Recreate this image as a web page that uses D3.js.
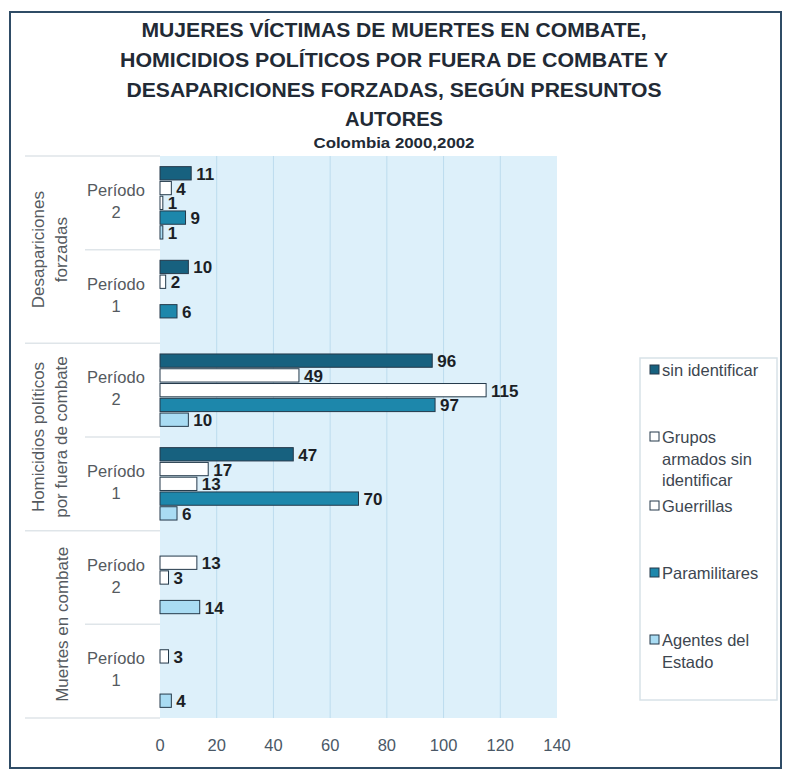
<!DOCTYPE html>
<html>
<head>
<meta charset="utf-8">
<script src="https://cdn.jsdelivr.net/npm/d3@7"></script>
<style>
  html, body { margin: 0; padding: 0; background: #ffffff; }
  svg { display: block; font-family: "Liberation Sans", Arial, sans-serif; }
</style>
</head>
<body>
<svg id="chart" width="787" height="771"></svg>
<script>
// Groups (outer) and periods (inner), top to bottom
const categories = ["Desapariciones forzadas", "Homicidios políticos por fuera de combate", "Muertes en combate"];
const categoryLines = [["Desapariciones", "forzadas"], ["Homicidios políticos", "por fuera de combate"], ["Muertes en combate"]];
const periods = ["Período 2", "Período 1"];

// Series names (legend order, and bar order within each period)
const series = ["sin identificar", "Grupos armados sin identificar", "Guerrillas", "Paramilitares", "Agentes del Estado"];

// Values per row: Desap P2, Desap P1, Homic P2, Homic P1, Muertes P2, Muertes P1
const sinIdentificar   = [11, 10, 96, 47, null, null];
const gruposArmados    = [4, 2, 49, 17, 13, 3];
const guerrillas       = [1, null, 115, 13, 3, null];
const paramilitares    = [9, 6, 97, 70, null, null];
const agentesDelEstado = [1, null, 10, 6, 14, 4];

const xTicks = [0, 20, 40, 60, 80, 100, 120, 140];

const seriesValues = [sinIdentificar, gruposArmados, guerrillas, paramilitares, agentesDelEstado];
const seriesColors = ["#17617f", "#ffffff", "#ffffff", "#1d87ab", "#a9dcf3"];

const rows = [];
categories.forEach((c, ci) => periods.forEach((p, pi) => rows.push({ key: c + "|" + p, cat: ci, period: p })));

const svg = d3.select("#chart");

// Outer frame
svg.append("rect").attr("x", 10).attr("y", 12).attr("width", 771).attr("height", 756)
  .attr("fill", "#ffffff").attr("stroke", "#2f4c66").attr("stroke-width", 2);

// Title
const titleLines = [
  { t: "MUJERES VÍCTIMAS DE MUERTES EN COMBATE,", y: 29, w: 505 },
  { t: "HOMICIDIOS POLÍTICOS POR FUERA DE COMBATE Y", y: 59, w: 548 },
  { t: "DESAPARICIONES FORZADAS, SEGÚN PRESUNTOS", y: 89, w: 535 },
  { t: "AUTORES", y: 118, w: 98 }
];
svg.append("g").selectAll("text").data(titleLines).join("text")
  .attr("x", 394).attr("y", d => d.y).attr("text-anchor", "middle").attr("dominant-baseline", "central")
  .attr("font-size", 21).attr("font-weight", "bold").attr("fill", "#222a35")
  .attr("textLength", d => d.w).attr("lengthAdjust", "spacingAndGlyphs")
  .text(d => d.t);
svg.append("text").attr("x", 394).attr("y", 142).attr("text-anchor", "middle").attr("dominant-baseline", "central")
  .attr("font-size", 15).attr("font-weight", "bold").attr("fill", "#222a35")
  .attr("textLength", 161).attr("lengthAdjust", "spacingAndGlyphs")
  .text("Colombia 2000,2002");

// Scales
const plot = { left: 160, right: 557, top: 156, bottom: 718 };
const x = d3.scaleLinear().domain([0, 140]).range([plot.left, plot.right]);
const yRow = d3.scaleBand().domain(rows.map(r => r.key)).range([plot.top, plot.bottom]).padding(0);
const ySeries = d3.scaleBand().domain(series).range([0, yRow.bandwidth()]).paddingInner(0.1).paddingOuter(0.72);

// Plot background
svg.append("rect").attr("x", plot.left).attr("y", plot.top)
  .attr("width", plot.right - plot.left).attr("height", plot.bottom - plot.top)
  .attr("fill", "#ddf0fa");

// Vertical gridlines
svg.append("g").selectAll("line").data(xTicks.filter(t => t > 0 && t < 140)).join("line")
  .attr("x1", d => x(d)).attr("x2", d => x(d)).attr("y1", plot.top).attr("y2", plot.bottom)
  .attr("stroke", "#bcdcee").attr("stroke-width", 1);

// Left label area separators
const sep = svg.append("g").attr("stroke", "#dfe5e9").attr("stroke-width", 1.5);
[0, 1, 2, 3].forEach(i => {
  const yy = plot.top + i * 2 * yRow.step();
  sep.append("line").attr("x1", 25).attr("x2", plot.left).attr("y1", yy).attr("y2", yy);
});
[0, 1, 2].forEach(i => {
  const yy = plot.top + (i * 2 + 1) * yRow.step();
  sep.append("line").attr("x1", 85).attr("x2", plot.left).attr("y1", yy).attr("y2", yy);
});

// Period labels
const pl = svg.append("g").attr("font-size", 16.5).attr("fill", "#555a60").attr("text-anchor", "middle");
rows.forEach(r => {
  const cy = yRow(r.key) + yRow.bandwidth() / 2;
  const parts = r.period.split(" ");
  pl.append("text").attr("x", 116).attr("y", cy - 13).attr("dominant-baseline", "central").text(parts[0]);
  pl.append("text").attr("x", 116).attr("y", cy + 9).attr("dominant-baseline", "central").text(parts[1]);
});

// Category labels (rotated)
const cl = svg.append("g").attr("font-size", 17).attr("fill", "#555a60").attr("text-anchor", "middle");
categoryLines.forEach((lines, ci) => {
  const cy = plot.top + (ci * 2 + 1) * yRow.step();
  const xs = lines.length === 2 ? [38, 61] : [62];
  lines.forEach((ln, li) => {
    cl.append("text").attr("transform", `translate(${xs[li]},${cy}) rotate(-90)`)
      .attr("dominant-baseline", "central").text(ln);
  });
});

// Bars and value labels
const barData = [];
rows.forEach((r, ri) => series.forEach((s, si) => {
  const v = seriesValues[si][ri];
  if (v != null) barData.push({ row: r.key, s, si, v });
}));

svg.append("g").selectAll("rect").data(barData).join("rect")
  .attr("x", x(0))
  .attr("y", d => yRow(d.row) + ySeries(d.s))
  .attr("width", d => x(d.v) - x(0))
  .attr("height", ySeries.bandwidth())
  .attr("fill", d => seriesColors[d.si])
  .attr("stroke", "#24394a").attr("stroke-width", 1);

svg.append("g").selectAll("text").data(barData).join("text")
  .attr("x", d => x(d.v) + 5)
  .attr("y", d => yRow(d.row) + ySeries(d.s) + ySeries.bandwidth() / 2 + 1)
  .attr("dominant-baseline", "central")
  .attr("font-size", 17).attr("font-weight", "bold").attr("fill", "#1b1f26")
  .text(d => d.v);

// X axis tick labels
svg.append("g").selectAll("text").data(xTicks).join("text")
  .attr("x", d => x(d)).attr("y", 745).attr("text-anchor", "middle").attr("dominant-baseline", "central")
  .attr("font-size", 16.5).attr("fill", "#4a5866")
  .text(d => d);

// Legend
svg.append("rect").attr("x", 640).attr("y", 358).attr("width", 137).attr("height", 342)
  .attr("fill", "#ffffff").attr("stroke", "#d8e2e8").attr("stroke-width", 1.5);
const legendItems = [
  { lines: ["sin identificar"], y: 370 },
  { lines: ["Grupos", "armados sin", "identificar"], y: 437 },
  { lines: ["Guerrillas"], y: 506 },
  { lines: ["Paramilitares"], y: 573 },
  { lines: ["Agentes del", "Estado"], y: 640 }
];
const lg = svg.append("g");
legendItems.forEach((it, i) => {
  lg.append("rect").attr("x", 650).attr("y", it.y - 5).attr("width", 9).attr("height", 9)
    .attr("fill", seriesColors[i]).attr("stroke", "#24394a").attr("stroke-width", 1);
  it.lines.forEach((ln, li) => {
    lg.append("text").attr("x", 662).attr("y", it.y + li * 21.5).attr("dominant-baseline", "central")
      .attr("font-size", 16.5).attr("fill", "#3d4650").text(ln);
  });
});
</script>
</body>
</html>
